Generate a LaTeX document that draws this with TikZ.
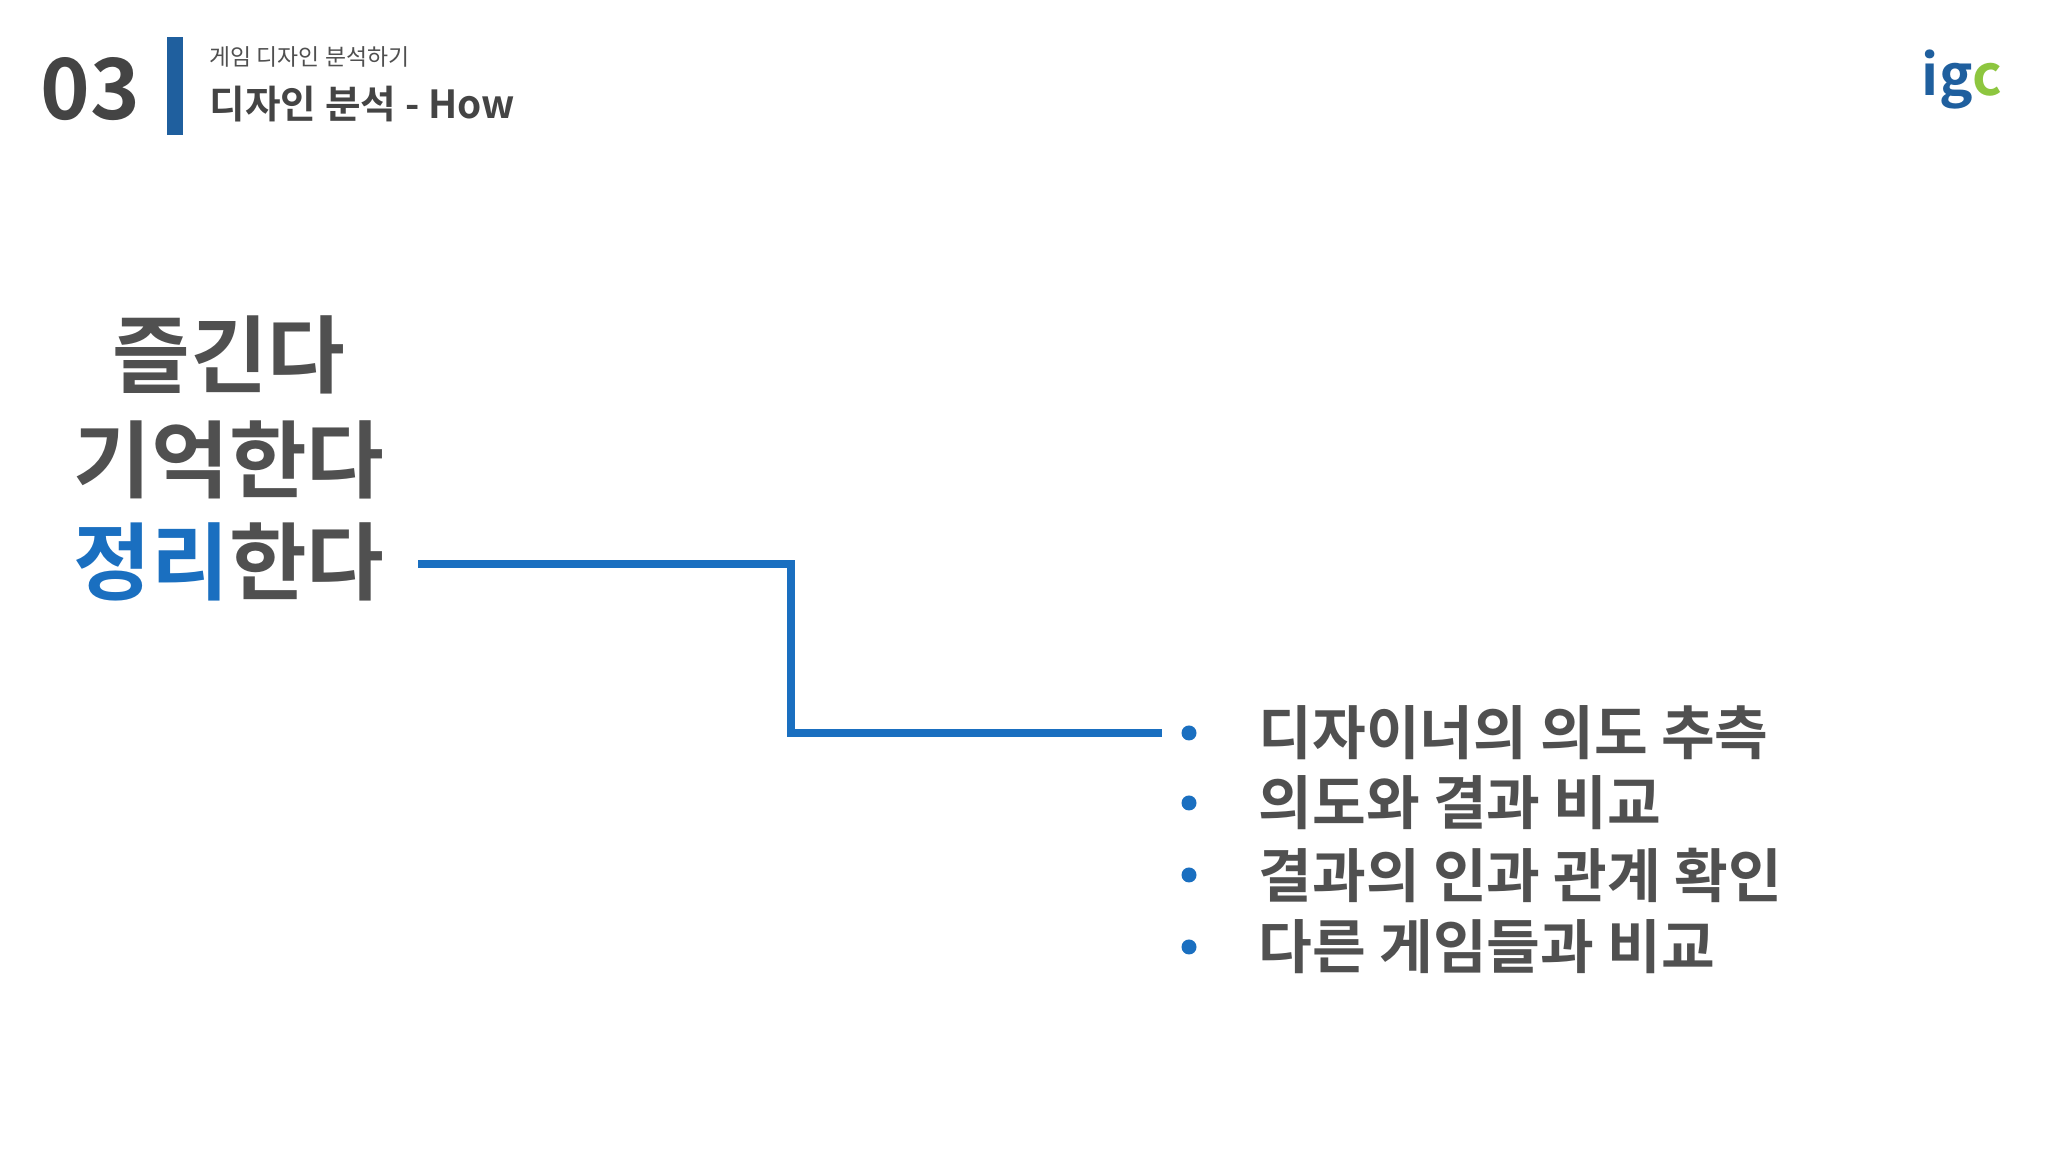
\documentclass[tikz,border=0pt]{standalone}
\usepackage{fontspec}
\setmainfont{Noto Sans CJK KR}
\newfontfamily\kb{Noto Sans CJK KR Bold}
\definecolor{dg}{HTML}{505050}
\definecolor{bl}{HTML}{1A6FC0}
\definecolor{gr}{HTML}{8DC63F}
\definecolor{lb}{HTML}{1F5F9E}
\begin{document}
\begin{tikzpicture}[x=0.01cm,y=0.01cm,
  big/.style={font=\kb\fontsize{24}{24}\selectfont, text=dg, inner sep=0},
  item/.style={font=\kb\fontsize{16.6}{17}\selectfont, text=dg, anchor=west, inner sep=0},
  dotb/.style={circle, fill=bl, minimum size=0.15cm, inner sep=0}]
\useasboundingbox (0,0) rectangle (2048,1152);
\fill[white] (0,0) rectangle (2048,1152);
\node[font=\kb\fontsize{24}{24}\selectfont, text=dg!85!black] (num) at (90,1063) {03};
\fill[lb] (167,1017) rectangle (183,1115);
\node[anchor=west, font=\fontsize{6.5}{7}\selectfont, text=dg, inner sep=0] (sub) at (209,1095) {게임 디자인 분석하기};
\node[anchor=west, font=\kb\fontsize{11}{12}\selectfont, text=dg!85!black, inner sep=0] (ttl) at (209,1048) {디자인 분석 - How};
\node[anchor=east, font=\kb\fontsize{16}{16}\selectfont, inner sep=0] (logo) at (2003,1072) {\textcolor{lb}{ig}\textcolor{gr}{c}};
\node[big] (t1) at (229,797) {즐긴다};
\node[big] (t2) at (229,692) {기억한다};
\node[big] (t3) at (229,590) {\textcolor{bl}{정리}한다};
\coordinate (a) at (418,588);
\coordinate (b) at (1162,419);
\draw[bl, line width=2pt] (a) -- (791,588) -- (791,419) -- (b);
\foreach \y/\t [count=\i] in {419/디자이너의 의도 추측, 349/의도와 결과 비교, 277/결과의 인과 관계 확인, 205/다른 게임들과 비교}{
  \node[dotb] (d\i) at (1189,\y) {};
  \node[item] (i\i) at (1258,\y) {\t};
}
\end{tikzpicture}
\end{document}
